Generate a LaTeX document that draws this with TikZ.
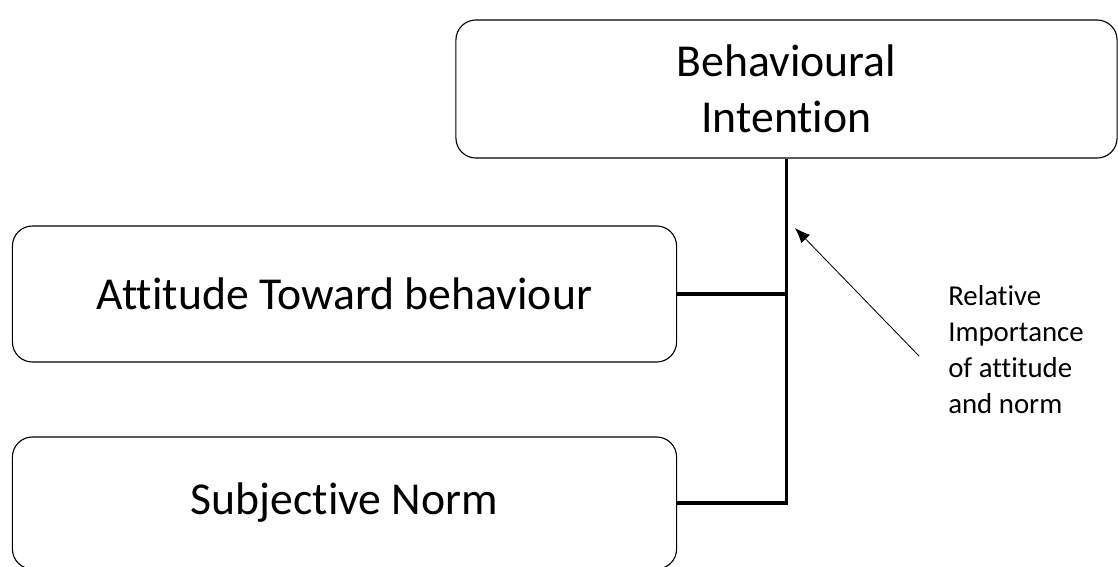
\documentclass[tikz,border=0pt]{standalone}
\usepackage{fontspec}
\setmainfont[Ligatures=NoCommon]{Carlito}
\usetikzlibrary{arrows.meta}

\begin{document}
\begin{tikzpicture}[x=0.025cm,y=-0.025cm,
    stage/.style={draw,thick,rounded corners=0.5cm,minimum width=16.6cm,
      align=center,inner sep=0pt,font=\fontsize{32.5}{39.5}\selectfont},
    link/.style={line width=2.8pt},
    note/.style={align=left,inner sep=0pt,font=\fontsize{20.5}{25.6}\selectfont}]
  \useasboundingbox (0,0) rectangle (1118,566);
  \node[stage,minimum width=16.525cm,minimum height=3.45cm] (intention) at (786.5,89) {Behavioural\\Intention};
  \node[stage,minimum height=3.4cm] (attitude) at (344.5,294) {Attitude Toward behaviour};
  \node[stage,minimum height=3.3cm] (norm) at (344.5,503) {Subjective Norm};
  \draw[link] (intention.south) |- (norm.east);
  \draw[link] (attitude.east) -- (attitude.east -| intention.south);
  % weighting of the two components
  \node[note,anchor=west] (weight) at (948,350) {Relative\\Importance\\of attitude\\and norm};
  \coordinate (tail) at (919,356);
  \coordinate (tip) at (795,228);
  \draw[semithick,-{Latex[length=0.38cm,width=0.3cm]}] (tail) -- (tip);
\end{tikzpicture}
\end{document}
